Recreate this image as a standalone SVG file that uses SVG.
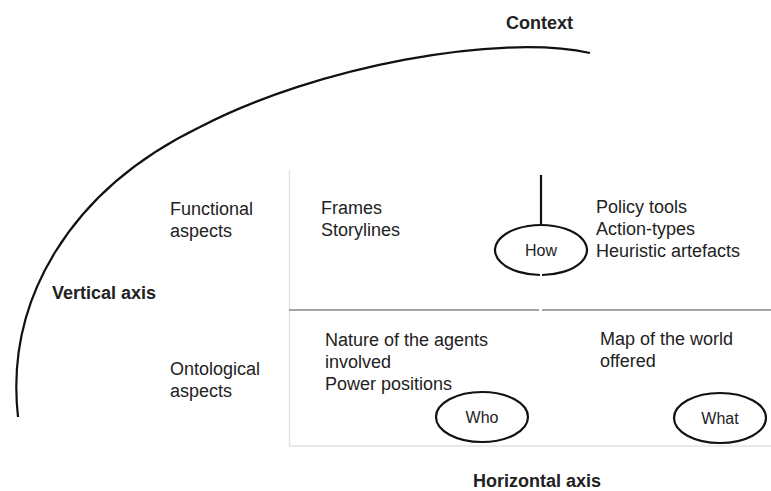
<svg xmlns="http://www.w3.org/2000/svg" width="771" height="491" viewBox="0 0 771 491">
  <style>
    .t { font-family: "Liberation Sans", Arial, sans-serif; font-size: 18px; fill: #222; }
    .b { font-family: "Liberation Sans", Arial, sans-serif; font-size: 18px; font-weight: bold; fill: #222; }
    .e { font-family: "Liberation Sans", Arial, sans-serif; font-size: 16px; fill: #222; text-anchor: middle; }
    .oval { fill: none; stroke: #111; stroke-width: 2.2; }
    .frame { fill: none; stroke: #e2e2e2; stroke-width: 1.5; }
  </style>
  <rect width="771" height="491" fill="#fff"/>

  <!-- context arc -->
  <g id="context">
    <path d="M18,417 C5,300 70,190 200,127 C317,66 500,33 590,53" fill="none" stroke="#111" stroke-width="2.2"/>
    <text class="b" x="506" y="29" font-size="16.5">Context</text>
  </g>

  <!-- matrix frame -->
  <g id="matrix">
    <line class="frame" x1="289.5" y1="170" x2="289.5" y2="446"/>
    <line class="frame" x1="289" y1="446" x2="771" y2="446"/>
    <line x1="289" y1="310" x2="539" y2="310" stroke="#a5a5a5" stroke-width="2.2"/>
    <line x1="542" y1="310" x2="771" y2="310" stroke="#a5a5a5" stroke-width="2.2"/>
  </g>

  <g id="vertical-axis">
    <text class="b" x="52" y="299" font-size="18.5">Vertical axis</text>
  </g>
  <g id="horizontal-axis">
    <text class="b" x="473" y="487">Horizontal axis</text>
  </g>

  <g id="functional">
    <text class="t" x="170" y="215">Functional</text>
    <text class="t" x="170" y="237">aspects</text>
  </g>
  <g id="ontological">
    <text class="t" x="170" y="375">Ontological</text>
    <text class="t" x="170" y="397">aspects</text>
  </g>

  <g id="frames">
    <text class="t" x="321" y="214">Frames</text>
    <text class="t" x="321" y="236">Storylines</text>
  </g>
  <g id="tools">
    <text class="t" x="596" y="213">Policy tools</text>
    <text class="t" x="596" y="235">Action-types</text>
    <text class="t" x="596" y="257">Heuristic artefacts</text>
  </g>
  <g id="agents">
    <text class="t" x="325" y="346">Nature of the agents</text>
    <text class="t" x="325" y="368">involved</text>
    <text class="t" x="325" y="390">Power positions</text>
  </g>
  <g id="world">
    <text class="t" x="600" y="345">Map of the world</text>
    <text class="t" x="600" y="367">offered</text>
  </g>

  <g id="connectors">
    <line x1="541" y1="175" x2="541" y2="225" stroke="#111" stroke-width="2.2"/>
  </g>

  <g id="how">
    <path class="oval" d="M540,275 A46,25 0 1 1 542,275"/>
    <text class="e" x="541" y="256">How</text>
  </g>
  <g id="who">
    <ellipse class="oval" cx="482" cy="417" rx="46" ry="25"/>
    <text class="e" x="482" y="423">Who</text>
  </g>
  <g id="what">
    <ellipse class="oval" cx="720" cy="418" rx="46" ry="25"/>
    <text class="e" x="720" y="424">What</text>
  </g>
</svg>
